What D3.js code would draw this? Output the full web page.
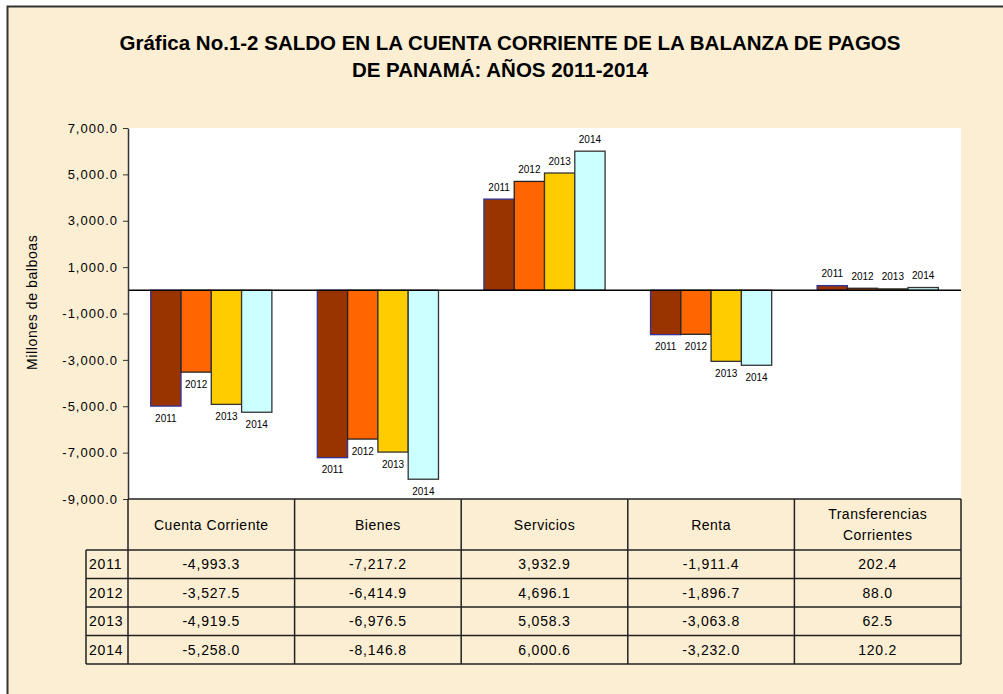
<!DOCTYPE html>
<html lang="es">
<head>
<meta charset="UTF-8">
<script src="https://d3js.org/d3.v7.min.js"></script>
<title>Saldo en la cuenta corriente</title>
<style>
    body { margin: 0; background: #ffffff; }
    text { font-family: "Liberation Sans", Arial, sans-serif; fill: #000; }
</style>
</head>
<body>
<svg id="chart" width="1003" height="694"></svg>
<script>
const categories = ["Cuenta Corriente", "Bienes", "Servicios", "Renta", "Transferencias Corrientes"];
const years = ["2011", "2012", "2013", "2014"];
const values2011 = [-4993.3, -7217.2, 3932.9, -1911.4, 202.4];
const values2012 = [-3527.5, -6414.9, 4696.1, -1896.7, 88.0];
const values2013 = [-4919.5, -6976.5, 5058.3, -3063.8, 62.5];
const values2014 = [-5258.0, -8146.8, 6000.6, -3232.0, 120.2];
const yTicks = [7000, 5000, 3000, 1000, -1000, -3000, -5000, -7000, -9000];
const yearColors = ["#993300", "#ff6600", "#ffcc00", "#ccffff"];
const yearStrokes = ["#333399", "#222222", "#333333", "#333333"];

const seriesValues = [values2011, values2012, values2013, values2014];

// plain hyphen as minus sign, like the original
const fmt = d3.formatLocale({ decimal: ".", thousands: ",", grouping: [3], currency: ["", ""], minus: "-" }).format(",.1f");

const svg = d3.select("#chart");
const margin = { top: 128, right: 42, bottom: 195, left: 128 };
const width = +svg.attr("width") - margin.left - margin.right;
const height = +svg.attr("height") - margin.top - margin.bottom;

// page background with frame
svg.append("rect")
    .attr("x", 7).attr("y", 6)
    .attr("width", 1003).attr("height", 700)
    .attr("fill", "#fbeed3");
svg.append("path")
    .attr("d", "M7.5,694 V6.5 H1003")
    .attr("fill", "none")
    .attr("stroke", "#333")
    .attr("stroke-width", 2);

// title
const title = svg.append("text")
    .attr("text-anchor", "middle")
    .attr("font-size", 20.5)
    .attr("font-weight", "bold");
title.append("tspan").attr("x", 510).attr("y", 50)
    .text("Gráfica No.1-2 SALDO EN LA CUENTA CORRIENTE DE LA BALANZA DE PAGOS");
title.append("tspan").attr("x", 500).attr("y", 77)
    .text("DE PANAMÁ: AÑOS 2011-2014");

const g = svg.append("g")
    .attr("transform", "translate(" + margin.left + "," + margin.top + ")");

const x = d3.scaleBand()
    .domain(categories)
    .range([0, width]);

const xYear = d3.scaleBand()
    .domain(years)
    .range([0, x.bandwidth()])
    .paddingOuter(0.75);

const y = d3.scaleLinear()
    .domain([-9000, 7000])
    .range([height, 0]);

// plot area
g.append("rect")
    .attr("width", width)
    .attr("height", height)
    .attr("fill", "#ffffff");

// bars
const rows = [];
years.forEach((yr, i) => {
    categories.forEach((c, j) => {
        rows.push({ year: yr, cat: c, value: seriesValues[i][j], idx: i });
    });
});

g.selectAll("rect.bar")
    .data(rows)
    .enter().append("rect")
    .attr("class", "bar")
    .attr("x", d => x(d.cat) + xYear(d.year))
    .attr("y", d => y(Math.max(0, d.value)))
    .attr("width", xYear.bandwidth())
    .attr("height", d => Math.abs(y(d.value) - y(0)))
    .attr("fill", d => yearColors[d.idx])
    .attr("stroke", d => yearStrokes[d.idx])
    .attr("stroke-width", 1.3);

// zero line
g.append("line")
    .attr("x1", 0).attr("x2", width)
    .attr("y1", y(0)).attr("y2", y(0))
    .attr("stroke", "#000")
    .attr("stroke-width", 1.5);

// year labels on the bars
const labels = g.selectAll("g.lbl")
    .data(rows)
    .enter().append("g")
    .attr("class", "lbl")
    .attr("transform", d => "translate(" + (x(d.cat) + xYear(d.year) + xYear.bandwidth() / 2) + "," +
        (y(d.value) + (d.value < 0 ? 12 : -12)) + ")");

labels.append("rect")
    .attr("fill", "#ffffff");
labels.append("text")
    .attr("text-anchor", "middle")
    .attr("dy", "0.35em")
    .attr("font-size", 10)
    .text(d => d.year);
labels.each(function () {
    const b = d3.select(this).select("text").node().getBBox();
    d3.select(this).select("rect")
        .attr("x", b.x - 2).attr("y", b.y - 1)
        .attr("width", b.width + 4).attr("height", b.height + 2);
});

// y axis
const yAxis = g.append("g")
    .attr("class", "y-axis")
    .call(d3.axisLeft(y).tickValues(yTicks).tickFormat(fmt).tickSize(5).tickSizeOuter(0));
yAxis.select(".domain").attr("stroke", "#333").attr("stroke-width", 1.5);
yAxis.selectAll(".tick line").attr("stroke", "#333");
yAxis.selectAll(".tick text")
    .attr("font-family", "Liberation Sans, Arial, sans-serif")
    .attr("font-size", 13)
    .attr("letter-spacing", 1)
    .attr("x", -10)
    .attr("fill", "#000");

svg.append("text")
    .attr("transform", "translate(37," + (margin.top + y(0) + 12) + ") rotate(-90)")
    .attr("text-anchor", "middle")
    .attr("font-size", 14)
    .attr("letter-spacing", 0.6)
    .text("Millones de balboas");

// data table
const tableTop = height;
const headerH = 51;
const rowY = d3.scaleBand()
    .domain(years)
    .range([tableTop + headerH, tableTop + headerH + 114]);
const tableBottom = tableTop + headerH + 114;
const yearColLeft = -42;
const tableColor = "#222";

const tbl = g.append("g").attr("class", "table");

// horizontal lines
tbl.append("line")
    .attr("x1", 0).attr("x2", width)
    .attr("y1", tableTop).attr("y2", tableTop);
years.forEach(yr => {
    tbl.append("line")
        .attr("x1", yearColLeft).attr("x2", width)
        .attr("y1", rowY(yr)).attr("y2", rowY(yr));
});
tbl.append("line")
    .attr("x1", yearColLeft).attr("x2", width)
    .attr("y1", tableBottom).attr("y2", tableBottom);

// vertical lines
categories.forEach(c => {
    tbl.append("line")
        .attr("x1", x(c)).attr("x2", x(c))
        .attr("y1", tableTop).attr("y2", tableBottom);
});
tbl.append("line")
    .attr("x1", width).attr("x2", width)
    .attr("y1", tableTop).attr("y2", tableBottom);
tbl.append("line")
    .attr("x1", yearColLeft).attr("x2", yearColLeft)
    .attr("y1", rowY(years[0])).attr("y2", tableBottom);

tbl.selectAll("line")
    .attr("stroke", tableColor)
    .attr("stroke-width", 1.5);

// header text
categories.forEach(c => {
    const words = c === "Transferencias Corrientes" ? ["Transferencias", "Corrientes"] : [c];
    const t = tbl.append("text")
        .attr("text-anchor", "middle")
        .attr("font-size", 14)
        .attr("letter-spacing", 0.5);
    words.forEach((w, k) => {
        t.append("tspan")
            .attr("x", x(c) + x.bandwidth() / 2)
            .attr("y", tableTop + headerH / 2 + 5 + (k - (words.length - 1) / 2) * 21)
            .text(w);
    });
});

// row labels and values
years.forEach((yr, i) => {
    tbl.append("text")
        .attr("x", yearColLeft + 3)
        .attr("y", rowY(yr) + rowY.bandwidth() / 2 + 5)
        .attr("font-size", 14)
        .attr("letter-spacing", 0.8)
        .text(yr);
    categories.forEach((c, j) => {
        tbl.append("text")
            .attr("x", x(c) + x.bandwidth() / 2)
            .attr("y", rowY(yr) + rowY.bandwidth() / 2 + 5)
            .attr("text-anchor", "middle")
            .attr("font-size", 14)
            .attr("letter-spacing", 0.8)
            .text(fmt(seriesValues[i][j]));
    });
});
</script>
</body>
</html>
